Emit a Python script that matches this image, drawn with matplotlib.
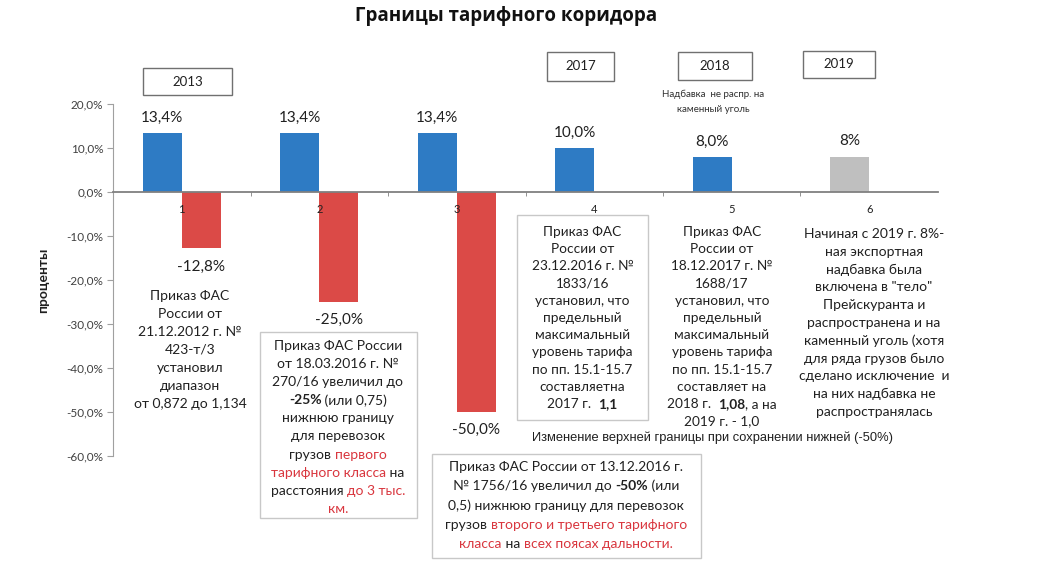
import matplotlib
matplotlib.use("Agg")
import matplotlib.pyplot as plt
from matplotlib.patches import Rectangle
import numpy as np

# ---------------- data ----------------
categories = ["1", "2", "3", "4", "5", "6"]
upper = [13.4, 13.4, 13.4, 10.0, 8.0, 8.0]
lower = [-12.8, -25.0, -50.0, np.nan, np.nan, np.nan]
upper_labels = ["13,4%", "13,4%", "13,4%", "10,0%", "8,0%", "8%"]
lower_labels = ["-12,8%", "-25,0%", "-50,0%", "", "", ""]
yticks = [20, 10, 0, -10, -20, -30, -40, -50, -60]
years = ["2013", "2017", "2018", "2019"]
title = "Границы тарифного коридора"
ylabel = "проценты"

BLUE = "#2E7BC4"
RED = "#DB4A47"
GRAY = "#BFBFBF"
RTXT = "#D9363E"
FONT = ["Lato", "DejaVu Sans"]

W, H = 1040, 572
plt.rcParams["font.family"] = FONT
fig = plt.figure(figsize=(W / 100, H / 100), dpi=100)
ax = fig.add_axes([113 / W, 1 - 456 / H, (938 - 113) / W, (456 - 104) / H])

x = np.arange(len(categories))
bw = 0.284
up_colors = [BLUE] * 5 + [GRAY]
ub = ax.bar(x - bw / 2, upper, bw, color=up_colors, zorder=1)
lb = ax.bar(x + bw / 2, lower, bw, color=RED, zorder=1)
ax.set_axisbelow(False)
ax.xaxis.set_zorder(3)

ax.set_xlim(-0.5, len(categories) - 0.5)
ax.set_ylim(-60, 20)
ax.set_yticks(yticks)
ax.set_yticklabels([f"{v:.1f}%".replace(".", ",") for v in yticks],
                   fontsize=8.5, color="#404040")
ax.tick_params(axis="y", length=4, color="#A0A0A0", pad=3)
ax.spines["top"].set_visible(False)
ax.spines["right"].set_visible(False)
ax.spines["left"].set_color("#A0A0A0")
ax.spines["bottom"].set_position(("data", 0))
ax.spines["bottom"].set_color("#808080")
ax.spines["bottom"].set_linewidth(1.3)
ax.spines["bottom"].set_zorder(3)
ax.set_xticks(x)
ax.set_xticklabels(categories, fontsize=8, color="#202020")
ax.tick_params(axis="x", which="major", length=0, pad=9)
ax.set_xticks(np.arange(0.5, len(categories) - 0.5, 1), minor=True)
ax.tick_params(axis="x", which="minor", length=3, color="#808080", direction="out")
ax.set_ylabel(ylabel, fontsize=10, fontweight="bold", labelpad=12, color="#202020")

for b, lab in zip(ub, upper_labels):
    ax.annotate(lab, (b.get_x() + b.get_width() / 2, b.get_height()),
                xytext=(0, 6), textcoords="offset points", ha="center",
                va="bottom", fontsize=11, color="#202020")
for b, lab in zip(lb, lower_labels):
    if lab:
        ax.annotate(lab, (b.get_x() + b.get_width() / 2, b.get_height()),
                    xytext=(0, -8), textcoords="offset points", ha="center",
                    va="top", fontsize=11, color="#202020")

fig.text(506 / W, 1 - 16 / H, title, ha="center", va="center", fontsize=13.5,
         fontweight="bold", family=["Open Sans", "DejaVu Sans"], color="#111111")


def px(xp, yp):
    return xp / W, 1 - yp / H


def box(x0, y0, x1, y1, ec="#C8C8C8", lw=1.0):
    fig.add_artist(Rectangle(px(x0, y1), (x1 - x0) / W, (y1 - y0) / H,
                             transform=fig.transFigure, fill=False, ec=ec, lw=lw))


# year boxes
year_boxes = [(143, 68, 232, 95), (547, 52, 614, 81), (678, 52, 752, 80), (803, 51, 875, 78)]
for yr, (x0, y0, x1, y1) in zip(years, year_boxes):
    box(x0, y0, x1, y1, ec="#707070", lw=1.0)
    fig.text(*px((x0 + x1) / 2, (y0 + y1) / 2), yr, ha="center", va="center",
             fontsize=9.5, color="#202020")

fig.text(*px(713, 94), "Надбавка  не распр. на", ha="center", va="center",
         fontsize=7, color="#303030")
fig.text(*px(713, 109), "каменный уголь", ha="center", va="center",
         fontsize=7, color="#303030")

renderer = fig.canvas.get_renderer()


def seg_width(s, fs, weight):
    t1 = fig.text(0, 0, "|" + s + "|", fontsize=fs, fontweight=weight)
    t2 = fig.text(0, 0, "||", fontsize=fs, fontweight=weight)
    w = t1.get_window_extent(renderer).width - t2.get_window_extent(renderer).width
    t1.remove()
    t2.remove()
    return w


def rich_block(cx, y0, dy, lines, fs=10, color="#202020"):
    for i, line in enumerate(lines):
        segs = []
        for s in line:
            if isinstance(s, str):
                segs.append((s, color, "normal"))
            else:
                segs.append((s[0], s[1] if s[1] else color, s[2] if len(s) > 2 else "normal"))
        widths = [seg_width(s, fs, w) for s, c, w in segs]
        total = sum(widths)
        xs = cx - total / 2
        yp = y0 + i * dy
        for (s, c, w), wd in zip(segs, widths):
            fig.text(*px(xs, yp), s, ha="left", va="center", fontsize=fs,
                     fontweight=w, color=c)
            xs += wd


# block 1
rich_block(190, 296, 18, [["Приказ ФАС"], ["России от"], ["21.12.2012 г. №"],
                          ["423-т/3"], ["установил"], ["диапазон"],
                          ["от 0,872 до 1,134"]], fs=10)

# block 2
box(260, 332, 417, 518)
rich_block(338, 346, 18.1, [
    ["Приказ ФАС России"], ["от 18.03.2016 г. №"], ["270/16 увеличил до"],
    [("-25%", None, "bold"), " (или 0,75)"], ["нижнюю границу"], ["для перевозок"],
    ["грузов ", ("первого", RTXT)], [("тарифного класса", RTXT), " на"],
    ["расстояния ", ("до 3 тыс.", RTXT)], [("км.", RTXT)]])

# block 3
box(432, 454, 701, 558)
rich_block(566, 467, 19.2, [
    ["Приказ ФАС России от 13.12.2016 г."],
    ["№ 1756/16 увеличил до ", ("-50%", None, "bold"), " (или"],
    ["0,5) нижнюю границу для перевозок"],
    ["грузов ", ("второго и третьего тарифного", RTXT)],
    [("класса", RTXT), " на ", ("всех поясах дальности.", RTXT)]])

# block 4
box(517, 215, 648, 420)
rich_block(582.5, 232, 17.2, [
    ["Приказ ФАС"], ["России от"], ["23.12.2016 г. №"], ["1833/16"],
    ["установил, что"], ["предельный"], ["максимальный"], ["уровень тарифа"],
    ["по пп. 15.1-15.7"], ["составляетна"], ["2017 г.  ", ("1,1", None, "bold")]],
    fs=9.8)

# block 5
rich_block(722, 232, 17.2, [
    ["Приказ ФАС"], ["России от"], ["18.12.2017 г. №"], ["1688/17"],
    ["установил, что"], ["предельный"], ["максимальный"], ["уровень тарифа"],
    ["по пп. 15.1-15.7"], ["составляет на"],
    ["2018 г.  ", ("1,08", None, "bold"), ", а на"], ["2019 г. - 1,0"]], fs=9.8)

# block 6
rich_block(874, 234, 17.8, [
    ["Начиная с 2019 г. 8%-"], ["ная экспортная"], ["надбавка была"],
    ["включена в \"тело\""], ["Прейскуранта и"], ["распространена и на"],
    ["каменный уголь (хотя"], ["для ряда грузов было"],
    ["сделано исключение  и"], ["на них надбавка не"], ["распространялась"]])

fig.text(*px(712, 438), "Изменение верхней границы при сохранении нижней (-50%)",
         ha="center", va="center", fontsize=9.3,
         family=["Liberation Sans Narrow", "Liberation Sans", "DejaVu Sans"],
         color="#202020")

fig.savefig("out.png", dpi=100)
